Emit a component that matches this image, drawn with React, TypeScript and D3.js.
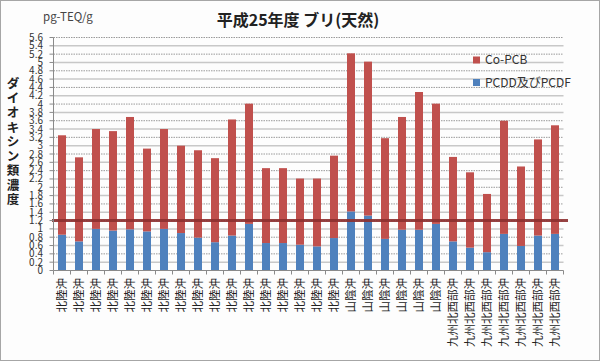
import * as d3 from 'd3';
import React from 'react';

// 海域 (x categories)
const areas = [
  ...Array(17).fill('北陸沖'),
  ...Array(6).fill('山陰沖'),
  ...Array(7).fill('九州北西部沖'),
];
// PCDD及びPCDF (pg-TEQ/g)
const pcdd = [0.86, 0.70, 1.00, 0.96, 0.99, 0.94, 1.00, 0.90, 0.79, 0.68, 0.84, 1.12, 0.66, 0.66, 0.62,
  0.58, 0.78, 1.42, 1.32, 0.76, 0.98, 0.98, 1.12, 0.70, 0.55, 0.44, 0.88, 0.59, 0.84, 0.88];
// Co-PCB (pg-TEQ/g)
const coPcb = [2.39, 2.02, 2.40, 2.39, 2.70, 1.99, 2.40, 2.10, 2.10, 2.02, 2.79, 2.89, 1.80, 1.80, 1.59,
  1.63, 1.98, 3.80, 3.70, 2.42, 2.71, 3.31, 2.89, 2.03, 1.81, 1.40, 2.72, 1.91, 2.31, 2.61];
const yTicks = d3.range(0, 29).map(i => +(i * 0.2).toFixed(1));
const refValue = 1.2;

const seriesNames = ['PCDD及びPCDF', 'Co-PCB'];
const colors = { 'PCDD及びPCDF': '#4F81BD', 'Co-PCB': '#C0504D' };

const W = 600, H = 361;
const plot = { left: 53.5, right: 563.5, top: 37.5, bottom: 270.5 };
const font = "'Noto Sans CJK JP', 'Noto Sans', sans-serif";

export default function App() {
  const rows = areas.map((a, i) => ({ key: String(i), area: a, 'PCDD及びPCDF': pcdd[i], 'Co-PCB': coPcb[i] }));
  const stacked = d3.stack().keys(seriesNames)(rows as any);

  const x = d3.scaleBand()
    .domain(rows.map(r => r.key))
    .range([plot.left, plot.right])
    .paddingInner(0.53)
    .paddingOuter(0.265);
  const y = d3.scaleLinear().domain([0, 5.6]).range([plot.bottom, plot.top]);
  const step = x.step();

  return (
    <svg width={W} height={H} style={{ position: 'absolute', left: 0, top: 0, fontFamily: font }}>
      <rect x={0.5} y={0.5} width={W - 1} height={H - 1} fill="#fdfdfd" stroke="#a6a6a6" />

      {/* gridlines */}
      {yTicks.slice(1).map((v, i) => {
        const even = (i + 1) % 2 === 0;
        return (
          <line key={'g' + v} x1={plot.left} x2={plot.right} y1={y(v)} y2={y(v)}
            stroke={even ? '#808080' : '#c8c8c8'}
            strokeWidth={even ? 0.8 : 1.5}
            strokeDasharray={even ? '1.5,1' : undefined} />
        );
      })}

      {/* bars */}
      {stacked.map(s => (
        <g key={s.key} fill={colors[s.key]}>
          {s.map((d, i) => (
            <rect key={i} x={x(rows[i].key)} width={x.bandwidth()}
              y={y(d[1])} height={y(d[0]) - y(d[1])} />
          ))}
        </g>
      ))}

      {/* reference line */}
      <line x1={plot.left - 1.5} x2={plot.right + 4.5} y1={y(refValue)} y2={y(refValue)}
        stroke="#8c2f2f" strokeWidth={3} opacity={0.9} />

      {/* axes */}
      <line x1={plot.left} x2={plot.left} y1={plot.top} y2={plot.bottom} stroke="#8a8a8a" />
      <line x1={plot.left} x2={plot.right} y1={plot.bottom} y2={plot.bottom} stroke="#8a8a8a" />
      {yTicks.map(v => (
        <g key={'t' + v}>
          <line x1={plot.left - 4} x2={plot.left} y1={y(v)} y2={y(v)} stroke="#8a8a8a" />
          <text x={43} y={y(v)} dy="0.35em" textAnchor="end" fontSize={10} fill="#333">{v}</text>
        </g>
      ))}
      {d3.range(rows.length + 1).map(i => (
        <line key={'xt' + i} x1={plot.left + i * step} x2={plot.left + i * step}
          y1={plot.bottom} y2={plot.bottom + 4} stroke="#8a8a8a" />
      ))}
      {rows.map(r => {
        const cx = (x(r.key) as number) + x.bandwidth() / 2;
        return (
          <text key={'xl' + r.key} transform={`translate(${cx},278) rotate(-90)`}
            textAnchor="end" dy="0.35em" fontSize={11.5} fill="#222">{r.area}</text>
        );
      })}

      {/* titles */}
      <text x={298} y={20} dy="0.35em" textAnchor="middle" fontSize={16} fontWeight="bold" fill="#222">
        平成25年度 ブリ(天然)
      </text>
      <text x={43} y={17} dy="0.35em" fontSize={11.5} fill="#444">pg-TEQ/g</text>
      {'ダイオキシン類濃度'.split('').map((c, i) => (
        <text key={'yt' + i} x={13} y={84 + i * 14.5} dy="0.35em" textAnchor="middle"
          fontSize={12.5} fontWeight="bold" fill="#222">{c}</text>
      ))}

      {/* legend */}
      {['Co-PCB', 'PCDD及びPCDF'].map((k, i) => (
        <g key={'lg' + k} transform={`translate(473,${60 + i * 22.5})`}>
          <rect x={0} y={-3.5} width={7} height={7} fill={colors[k]} />
          <text x={12} y={0} dy="0.35em" fontSize={12} fill="#333">{k}</text>
        </g>
      ))}
    </svg>
  );
}
